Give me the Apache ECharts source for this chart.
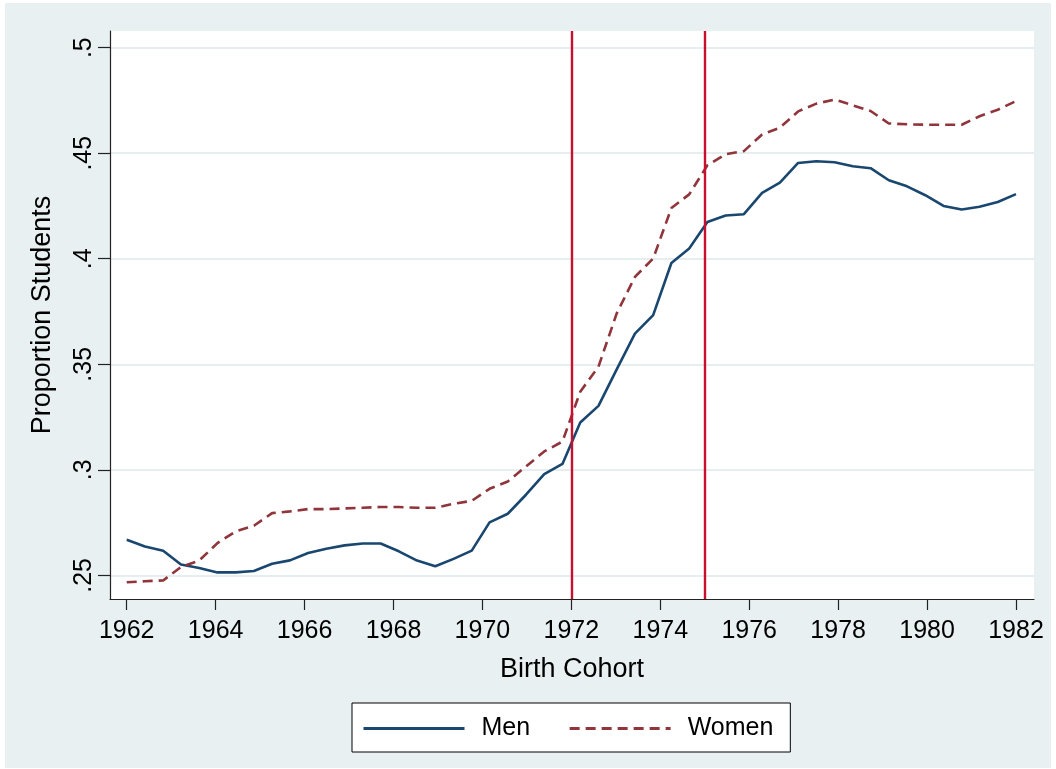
<!DOCTYPE html>
<html>
<head>
<meta charset="utf-8">
<script src="https://cdn.jsdelivr.net/npm/echarts@6/dist/echarts.min.js"></script>
<style>
  html, body { margin: 0; padding: 0; background: #fff; }
  #chart { width: 1056px; height: 769px; }
</style>
</head>
<body>
<div id="chart"></div>
<script>
// birth cohort positions of the plotted points
var cohort = [
  1962.00, 1962.41, 1962.82, 1963.22, 1963.63, 1964.04, 1964.45, 1964.86, 1965.27, 1965.67,
  1966.08, 1966.49, 1966.90, 1967.31, 1967.71, 1968.12, 1968.53, 1968.94, 1969.35, 1969.76,
  1970.16, 1970.57, 1970.98, 1971.39, 1971.80, 1972.20, 1972.61, 1973.02, 1973.43, 1973.84,
  1974.25, 1974.65, 1975.06, 1975.47, 1975.88, 1976.29, 1976.69, 1977.10, 1977.51, 1977.92,
  1978.33, 1978.73, 1979.14, 1979.55, 1979.96, 1980.37, 1980.78, 1981.18, 1981.59, 1982.00
];

var men = [
  0.2669, 0.2637, 0.2617, 0.2551, 0.2535, 0.2514, 0.2514, 0.2521, 0.2555, 0.2571,
  0.2606, 0.2626, 0.2642, 0.2651, 0.2651, 0.2614, 0.2570, 0.2543, 0.2578, 0.2617,
  0.2751, 0.2792, 0.2882, 0.2980, 0.3028, 0.3224, 0.3303, 0.3476, 0.3645, 0.3733,
  0.3980, 0.4049, 0.4174, 0.4205, 0.4211, 0.4312, 0.4361, 0.4454, 0.4462, 0.4457,
  0.4438, 0.4429, 0.4372, 0.4343, 0.4301, 0.4250, 0.4233, 0.4246, 0.4269, 0.4306
];

var women = [
  0.2467, 0.2472, 0.2476, 0.2540, 0.2570, 0.2653, 0.2708, 0.2735, 0.2795, 0.2803,
  0.2814, 0.2814, 0.2817, 0.2820, 0.2824, 0.2824, 0.2820, 0.2820, 0.2839, 0.2853,
  0.2910, 0.2945, 0.3016, 0.3087, 0.3134, 0.3370, 0.3489, 0.3741, 0.3914, 0.4001,
  0.4240, 0.4305, 0.4443, 0.4495, 0.4510, 0.4589, 0.4621, 0.4698, 0.4735, 0.4754,
  0.4727, 0.4700, 0.4641, 0.4637, 0.4635, 0.4635, 0.4635, 0.4675, 0.4706, 0.4747
];

var xTicks = [1962, 1964, 1966, 1968, 1970, 1972, 1974, 1976, 1978, 1980, 1982];
var yTicks = [0.25, 0.3, 0.35, 0.4, 0.45, 0.5];
var reformYears = [1972, 1975];

var font = 'Liberation Sans, Arial, sans-serif';

function pairs(ys) {
  return cohort.map(function (x, i) { return [x, ys[i]]; });
}

var chart = echarts.init(document.getElementById('chart'));
chart.setOption({
  backgroundColor: '#ffffff',
  animation: false,
  graphic: [{
    type: 'rect',
    z: -100,
    shape: { x: 5, y: 3, width: 1046, height: 765 },
    style: { fill: '#e8f0f2' },
    silent: true
  }],
  grid: {
    left: 110, top: 31, right: 22, bottom: 170,
    show: true,
    backgroundColor: '#ffffff',
    borderWidth: 0
  },
  legend: {
    left: 352,
    top: 703,
    padding: [13, 17, 11, 10],
    itemGap: 38,
    itemWidth: 101,
    itemHeight: 25,
    backgroundColor: '#ffffff',
    borderColor: '#000000',
    borderWidth: 1,
    borderRadius: 0,
    itemStyle: { opacity: 0 },
    lineStyle: { width: 3 },
    textStyle: { fontFamily: font, fontSize: 25, color: '#000', padding: [0, 0, 0, 12] },
    data: ['Men', 'Women']
  },
  xAxis: {
    type: 'value',
    min: 1961.624,
    max: 1982.405,
    name: 'Birth Cohort',
    nameLocation: 'middle',
    nameGap: 57,
    nameTextStyle: { fontFamily: font, fontSize: 27, color: '#000' },
    axisLine: { show: true, onZero: false, lineStyle: { color: '#222', width: 1.2 } },
    axisTick: { show: true, length: 11, customValues: xTicks, lineStyle: { color: '#222', width: 1.2 } },
    axisLabel: {
      customValues: xTicks,
      margin: 20,
      fontFamily: font, fontSize: 25, color: '#000',
      formatter: function (v) { return String(Math.round(v)); }
    },
    splitLine: { show: false }
  },
  yAxis: {
    type: 'value',
    min: 0.2388,
    max: 0.5079,
    name: 'Proportion Students',
    nameLocation: 'middle',
    nameGap: 54,
    nameTextStyle: { fontFamily: font, fontSize: 27, color: '#000' },
    axisLine: { show: true, onZero: false, lineStyle: { color: '#222', width: 1.2 } },
    axisTick: { show: true, length: 12, customValues: yTicks, lineStyle: { color: '#222', width: 1.2 } },
    axisLabel: {
      customValues: yTicks,
      rotate: 90,
      margin: 13,
      fontFamily: font, fontSize: 25, color: '#000',
      formatter: function (v) { return String(+v.toFixed(2)).replace(/^0/, ''); }
    },
    splitLine: { show: true, lineStyle: { color: '#e6eef0', width: 2 } }
  },
  series: [
    {
      name: 'Men',
      type: 'line',
      data: pairs(men),
      showSymbol: false,
      symbol: 'none',
      itemStyle: { color: '#1a476f' },
      lineStyle: { color: '#1a476f', width: 2.6 },
      markLine: {
        silent: true,
        symbol: 'none',
        label: { show: false },
        lineStyle: { color: '#c8102e', width: 2.4, type: 'solid' },
        data: reformYears.map(function (y) { return { xAxis: y }; })
      },
      z: 3
    },
    {
      name: 'Women',
      type: 'line',
      data: pairs(women),
      showSymbol: false,
      symbol: 'none',
      itemStyle: { color: '#90353b' },
      lineStyle: { color: '#90353b', width: 2.6, type: [10, 6] },
      z: 3
    }
  ]
});
</script>
</body>
</html>
